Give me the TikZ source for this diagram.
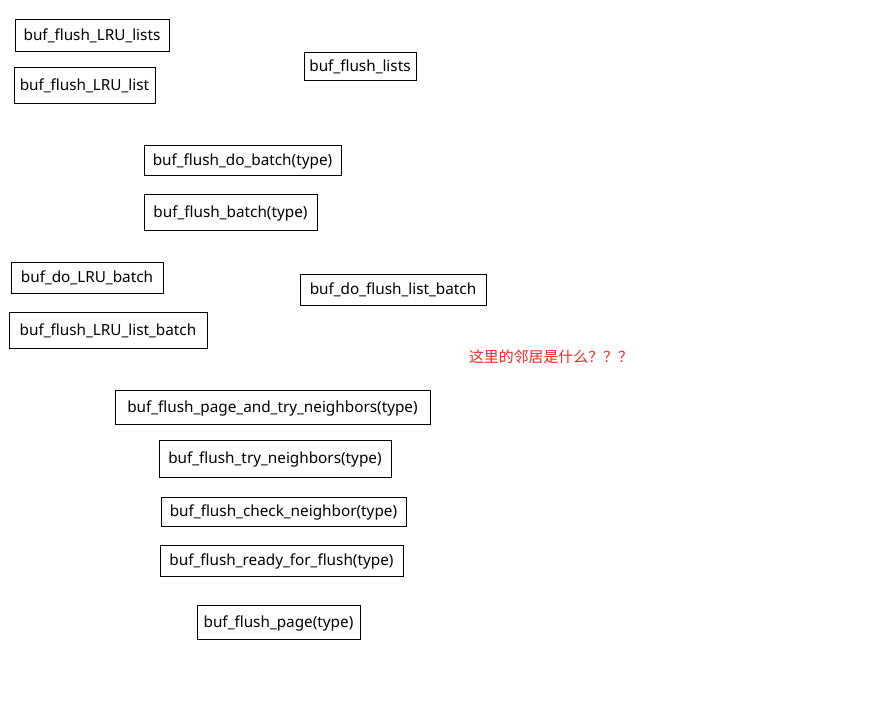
\documentclass[tikz,border=0pt]{standalone}
\usepackage{fontspec}
\setmainfont{Noto Sans}
\newfontfamily\cjk{Noto Sans CJK SC}
\definecolor{notered}{RGB}{255,35,35}
\tikzset{
	fn/.style={shape=rectangle, draw=black, line width=0.9pt, inner sep=0pt,
		text height=13pt, text depth=3pt,
		font=\fontsize{15.3}{18}\selectfont},
	note/.style={text=notered, inner sep=0pt, font=\cjk\fontsize{14.9}{18}\selectfont}
}
\begin{document}
\begin{tikzpicture}[x=1pt, y=-1pt]
	\useasboundingbox (0,0) rectangle (881,702);

	\node[fn, minimum width=154pt, minimum height=32pt] (lrulists)   at (92,35)    {buf\_flush\_LRU\_lists};
	\node[fn, minimum width=141pt, minimum height=36pt] (lrulist)    at (84.5,85)  {buf\_flush\_LRU\_list};
	\node[fn, minimum width=112pt, minimum height=28pt] (flushlists) at (360,66)   {buf\_flush\_lists};
	\node[fn, minimum width=197pt, minimum height=30pt] (dobatch)    at (242.5,160) {buf\_flush\_do\_batch(type)};
	\node[fn, minimum width=173pt, minimum height=36pt] (batch)      at (230.5,212) {buf\_flush\_batch(type)};
	\node[fn, minimum width=152pt, minimum height=31pt] (dolru)      at (87,277.5) {buf\_do\_LRU\_batch};
	\node[fn, minimum width=186pt, minimum height=31pt] (doflist)    at (393,289.5) {buf\_do\_flush\_list\_batch};
	\node[fn, minimum width=198pt, minimum height=36pt] (lrubatch)   at (108,330)  {buf\_flush\_LRU\_list\_batch};
	\node[fn, minimum width=315pt, minimum height=34pt] (pagetry)    at (272.5,407) {buf\_flush\_page\_and\_try\_neighbors(type)};
	\node[fn, minimum width=232pt, minimum height=37pt] (trynb)      at (275,458.5) {buf\_flush\_try\_neighbors(type)};
	\node[fn, minimum width=245pt, minimum height=29pt] (checknb)    at (283.5,511.5) {buf\_flush\_check\_neighbor(type)};
	\node[fn, minimum width=243pt, minimum height=31pt] (ready)      at (281.5,560.5) {buf\_flush\_ready\_for\_flush(type)};
	\node[fn, minimum width=163pt, minimum height=34pt] (page)       at (278.5,622) {buf\_flush\_page(type)};

	\node[note] (why) at (551,357) {这里的邻居是什么？？？};
\end{tikzpicture}
\end{document}
